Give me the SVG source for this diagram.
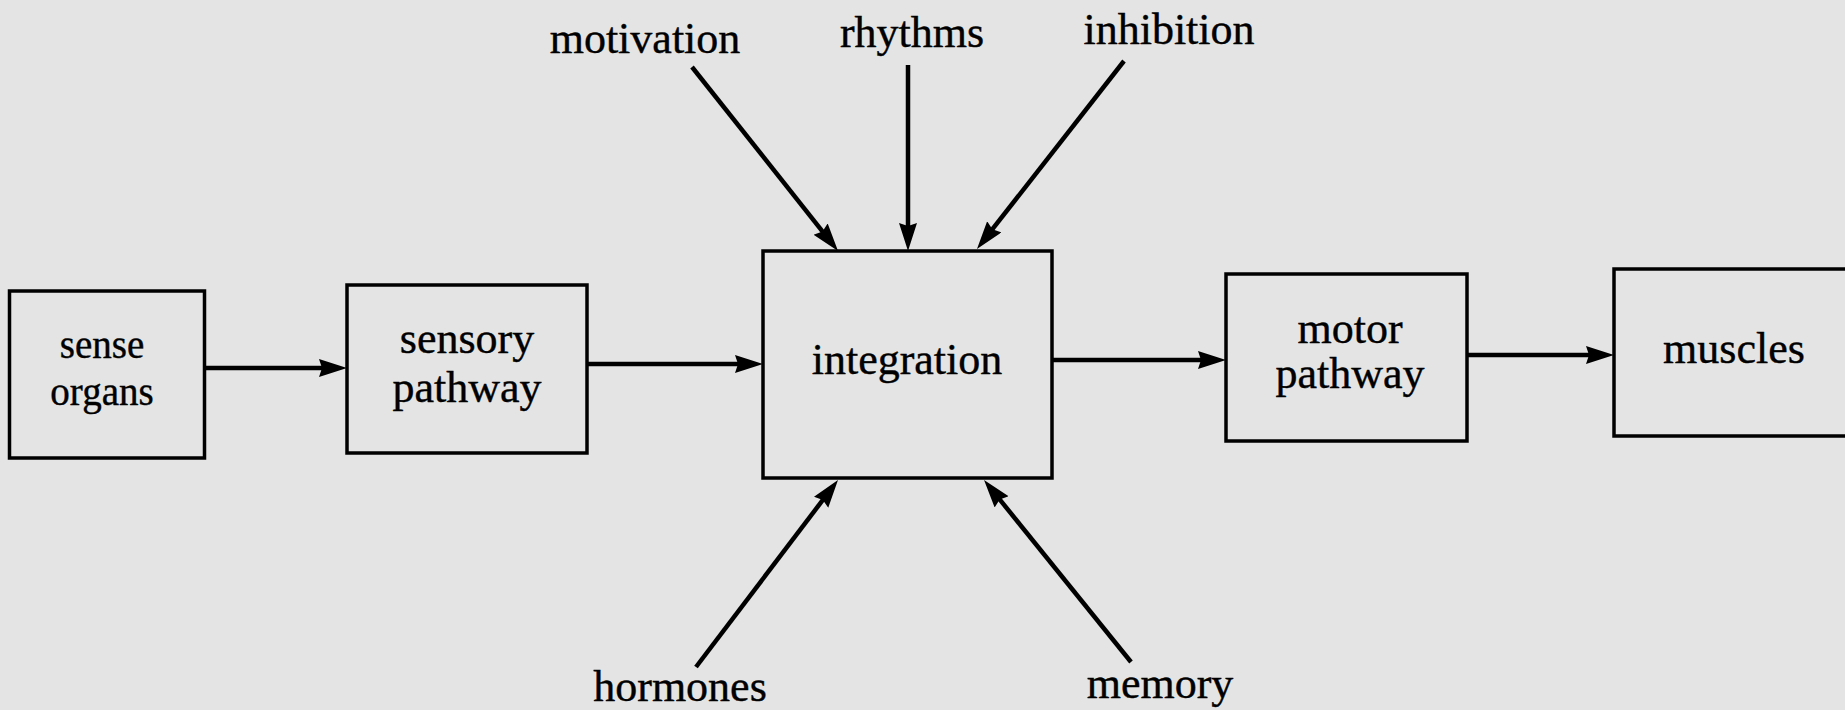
<svg xmlns="http://www.w3.org/2000/svg" width="1845" height="710" viewBox="0 0 1845 710">
<style>
.box{fill:none;stroke:#000;stroke-width:3.5}
.lbl{font-family:"Liberation Serif","Times New Roman",serif;font-size:44px;fill:#000;stroke:#000;stroke-width:0.4;text-anchor:middle}
.sm{font-size:39px}
.arr{stroke:#000;stroke-width:4.5;fill:none;marker-end:url(#ah)}
</style>
<defs>
<marker id="ah" markerUnits="userSpaceOnUse" markerWidth="32" markerHeight="22" refX="8" refY="9" orient="auto">
<path d="M0,0 L28,9 L0,18 L3,9 z" fill="#000"/>
</marker>
</defs>
<rect width="1845" height="710" fill="#e4e4e4"/>
<g id="sense-organs">
<rect class="box" x="9.5" y="291" width="195" height="167"/>
<text class="lbl sm" x="102" y="358">sense</text>
<text class="lbl sm" x="102" y="405">organs</text>
</g>
<g id="sensory-pathway">
<rect class="box" x="347" y="285" width="240" height="168"/>
<text class="lbl" x="467" y="353">sensory</text>
<text class="lbl" x="467" y="402">pathway</text>
</g>
<g id="integration">
<rect class="box" x="763" y="251" width="289" height="227"/>
<text class="lbl" x="907" y="374">integration</text>
</g>
<g id="motor-pathway">
<rect class="box" x="1226" y="274" width="241" height="167"/>
<text class="lbl" x="1350" y="343">motor</text>
<text class="lbl" x="1350" y="388">pathway</text>
</g>
<g id="muscles">
<rect class="box" x="1614" y="269" width="260" height="167"/>
<text class="lbl" x="1734" y="363">muscles</text>
</g>
<g id="motivation"><text class="lbl" x="645" y="53">motivation</text></g>
<g id="rhythms"><text class="lbl" x="912" y="47">rhythms</text></g>
<g id="inhibition"><text class="lbl" x="1169" y="44">inhibition</text></g>
<g id="hormones"><text class="lbl" x="680" y="701">hormones</text></g>
<g id="memory"><text class="lbl" x="1160" y="698">memory</text></g>
<g id="connectors">
<line class="arr" x1="205" y1="368" x2="327" y2="368"/>
<line class="arr" x1="587" y1="364" x2="743" y2="364"/>
<line class="arr" x1="1052" y1="360" x2="1206" y2="360"/>
<line class="arr" x1="1467" y1="355" x2="1594" y2="355"/>
<line class="arr" x1="692" y1="67" x2="825.6" y2="235.3"/>
<line class="arr" x1="908" y1="65" x2="908" y2="231"/>
<line class="arr" x1="1124" y1="61" x2="989.3" y2="233.2"/>
<line class="arr" x1="696" y1="667" x2="825.9" y2="495.9"/>
<line class="arr" x1="1131" y1="662" x2="996.6" y2="495.6"/>
</g>
</svg>
